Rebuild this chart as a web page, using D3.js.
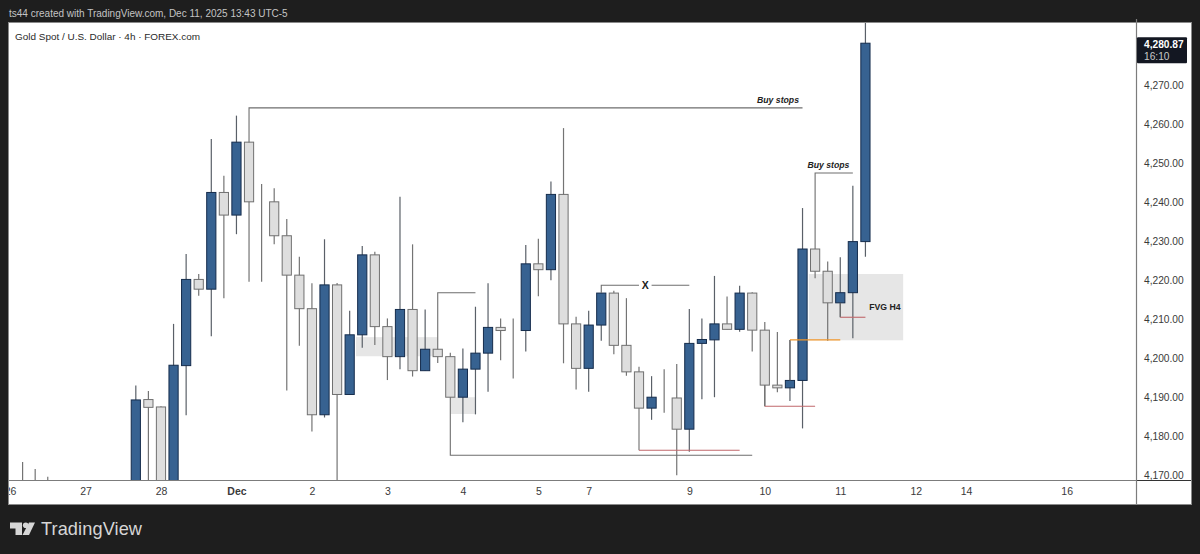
<!DOCTYPE html>
<html>
<head>
<meta charset="utf-8">
<script src="https://cdn.jsdelivr.net/npm/d3@7"></script>
<style>
  html, body { margin: 0; padding: 0; background: #1e1e1e; }
  svg { display: block; }
  text { font-family: "Liberation Sans", sans-serif; }
</style>
</head>
<body>
<svg id="chart" width="1200" height="554"></svg>
<script>
// bars are numbered from the "27" label, first one is bar -5
const firstBar = -5;
const opens = [4165, 4165, 4165, null, null, null, null, null, null,
  4160, 4189.5, 4187.6, 4160, 4198.2, 4220.3, 4217.8, 4242.6, 4236.8, 4255.5, 4240.2, 4240.2, 4231.5, 4221.4, 4212.8,
  4185.6, 4218.9, 4190.8, 4206.1, 4226.6, 4208.2, 4200.5, 4212.6, 4196.9, 4202.4, 4200.5, 4190.1, 4197.3, 4201.4,
  4208, 4207.2, 4207.2, 4224.3, 4222.8, 4242.1, 4208.9, 4197.5, 4208.6, 4216.8, 4203.4, 4196.6, 4187.3, 4190.1, 4189.9,
  4181.9, 4203.9, 4204.8, 4208.9, 4207.5, 4216.8, 4207.3, 4193.2, 4192.5, 4194.4, 4228.1, 4222.4, 4214.3, 4216.9, 4230];
const closes = [4160, 4160, 4160, null, null, null, null, null, null,
  4189.4, 4187.5, 4160, 4198.3, 4220.3, 4217.8, 4242.6, 4236.8, 4255.5, 4240.2, 4240.2, 4231.5, 4221.4, 4212.8, 4185.6,
  4218.9, 4190.8, 4206.1, 4226.6, 4208.2, 4200.5, 4212.6, 4196.9, 4202.4, 4200.5, 4190.1, 4197.3, 4201.4, 4208,
  4207.2, 4207.2, 4224.3, 4222.8, 4242.1, 4208.9, 4197.5, 4208.6, 4216.8, 4203.4, 4196.6, 4187.3, 4190.1, 4190.1, 4181.9,
  4203.9, 4204.9, 4208.9, 4207.5, 4216.8, 4207.3, 4193.2, 4192.5, 4194.4, 4228.1, 4222.4, 4214.3, 4216.9, 4230, 4280.87];
const highs = [4173.5, 4171.7, 4169.7, null, null, null, null, null, null,
  4193.1, 4191.7, 4187.8, 4208.9, 4226.8, 4221.7, 4256.3, 4246.9, 4262.3, 4255.5, 4244.8, 4243.7, 4235.8, 4226.1, 4219.3,
  4230.6, 4219.4, 4212.3, 4228.9, 4227.4, 4210.3, 4241.5, 4229.3, 4212.6, 4202.4, 4201.5, 4202.6, 4213.3, 4219.3,
  4210.3, 4210.3, 4229.1, 4230.7, 4245.4, 4259.1, 4210.7, 4212.3, 4216.8, 4217.4, 4215.5, 4197.9, 4195.5, 4197.3, 4198.6,
  4212.7, 4210.3, 4221.2, 4215.9, 4218.7, 4217, 4209.4, 4206.8, 4204.8, 4238.6, 4228.1, 4224.9, 4226, 4244.3, 4295];
const lows = [4150, 4150, 4150, null, null, null, null, null, null,
  4150, 4150, 4150, 4150, 4185.5, 4216.1, 4205.7, 4215.5, 4231.9, 4219.7, 4219.7, 4229.3, 4191.8, 4203.3, 4181.3,
  4184.9, 4160, 4190.8, 4202.8, 4203.5, 4194.5, 4197.3, 4195.4, 4196.9, 4198.9, 4190.1, 4183.7, 4185.7, 4191.5,
  4199.6, 4194.9, 4201.8, 4216, 4220.1, 4198.8, 4192.1, 4191.5, 4204.6, 4201.1, 4195.6, 4187.3, 4184.3, 4186.1, 4170.1,
  4176.1, 4189.6, 4190.1, 4207.5, 4206.9, 4201.8, 4187.8, 4191.4, 4189.1, 4182.1, 4220.6, 4204.6, 4210.6, 4205.2, 4226.1];

const priceTicks = [4170, 4180, 4190, 4200, 4210, 4220, 4230, 4240, 4250, 4260, 4270];
const dateBars = [-6, 0, 6, 12, 18, 24, 30, 36, 40, 48, 54, 60, 66, 70, 78];
const dateLabels = ["26", "27", "28", "Dec", "2", "3", "4", "5", "7", "9", "10", "11", "12", "14", "16"];

// drawings: each is a list of [bar, price]
const greyLines = [
  [[13, 4255.5], [13, 4264.3], [57, 4264.3]],
  [[58, 4228.1], [58, 4247.6], [61, 4247.6]],
  [[28, 4202.4], [28, 4216.9], [31, 4216.9]],
  [[41, 4216.8], [41, 4218.8], [44, 4218.8]],
  [[45, 4218.8], [48, 4218.8]],
  [[29, 4190.1], [29, 4175.2], [53, 4175.2]],
  [[44, 4187.3], [44, 4176.5]],
  [[54, 4193.2], [54, 4187.8]],
  [[60, 4214.3], [60, 4210.6]],
  [[56, 4194.4], [56, 4204.8]]
];
const redLines = [
  [[44, 4176.5], [52, 4176.5]],
  [[54, 4187.8], [58, 4187.8]],
  [[60, 4210.6], [62, 4210.6]]
];
const orangeLines = [[[56, 4204.8], [60, 4204.8]]];
const zoneBars = [[21.5, 28], [29, 31], [57.5, 65]];
const zonePrices = [[4205.5, 4200.6], [4190.1, 4185.8], [4221.7, 4204.7]];
const noteTexts = ["Buy stops", "Buy stops", "X", "FVG H4"];
const noteBars = [55.05, 59.06, 44.5, 63.55];
const notePrices = [4266.3, 4249.6, 4218.9, 4213.3];
const noteStyles = ["italic", "italic", "normal", "normal"];

const svg = d3.select("#chart");
const pane = { left: 9, right: 1137, top: 23, bottom: 481, outerRight: 1191, outerBottom: 504 };

const x = d3.scaleLinear().domain([0, 78]).range([85.5, 1066.7]);
const y = d3.scaleLinear().domain([4170, 4270]).range([475.6, 85.6]);

/* Frame */
svg.append("rect")
  .attr("x", pane.left - 0.5).attr("y", pane.top - 0.5)
  .attr("width", pane.outerRight - pane.left + 1).attr("height", pane.outerBottom - pane.top + 1)
  .attr("fill", "#ffffff").attr("stroke", "#8a8a8a");

svg.append("clipPath").attr("id", "plot").append("rect")
  .attr("x", pane.left).attr("y", pane.top)
  .attr("width", pane.right - pane.left).attr("height", pane.bottom - pane.top);
svg.append("clipPath").attr("id", "time").append("rect")
  .attr("x", pane.left).attr("y", pane.bottom)
  .attr("width", pane.right - pane.left).attr("height", pane.outerBottom - pane.bottom);

const plot = svg.append("g").attr("clip-path", "url(#plot)");

/* Zones */
plot.selectAll("rect.zone")
  .data(zoneBars)
  .enter()
  .append("rect")
  .attr("class", "zone")
  .attr("x", d => x(d[0]))
  .attr("width", d => x(d[1]) - x(d[0]))
  .attr("y", (d, i) => y(zonePrices[i][0]))
  .attr("height", (d, i) => y(zonePrices[i][1]) - y(zonePrices[i][0]))
  .attr("fill", "#e6e6e6");

/* Candles */
const candles = opens.map((o, i) => ({
  bar: firstBar + i, open: o, close: closes[i], high: highs[i], low: lows[i]
})).filter(d => d.open !== null);
const isUp = d => d.close > d.open;

plot.selectAll("line.wick")
  .data(candles)
  .enter()
  .append("line")
  .attr("class", "wick")
  .attr("x1", d => x(d.bar)).attr("x2", d => x(d.bar))
  .attr("y1", d => y(d.high)).attr("y2", d => y(d.low))
  .attr("stroke", d => isUp(d) ? "#5a6068" : "#747474")
  .attr("stroke-width", 1.2);

plot.selectAll("rect.body")
  .data(candles)
  .enter()
  .append("rect")
  .attr("class", "body")
  .attr("x", d => x(d.bar) - 4.6)
  .attr("width", 9.2)
  .attr("y", d => y(Math.max(d.open, d.close)))
  .attr("height", d => Math.abs(y(d.open) - y(d.close)))
  .attr("fill", d => isUp(d) ? "#376291" : "#dedede")
  .attr("stroke", d => isUp(d) ? "#152c4c" : "#707070")
  .attr("stroke-width", 1);

/* Drawings */
const drawing = d3.line().x(d => x(d[0])).y(d => y(d[1]));

function addLines(list, colour, width) {
  plot.append("g")
    .selectAll("path")
    .data(list)
    .enter()
    .append("path")
    .attr("d", drawing)
    .attr("fill", "none")
    .attr("stroke", colour)
    .attr("stroke-width", width);
}
addLines(greyLines, "#6e6e6e", 1.1);
addLines(redLines, "#c0676b", 1.1);
addLines(orangeLines, "#f0962a", 1.4);

plot.selectAll("text.note")
  .data(noteTexts)
  .enter()
  .append("text")
  .attr("class", "note")
  .attr("x", (d, i) => x(noteBars[i]))
  .attr("y", (d, i) => y(notePrices[i]))
  .attr("dy", "0.35em")
  .attr("text-anchor", "middle")
  .attr("font-size", (d, i) => i == 2 ? 10.5 : 8.7)
  .attr("font-style", (d, i) => noteStyles[i])
  .attr("font-weight", 700)
  .attr("fill", "#222")
  .text(d => d);

/* Axes */
const priceAxis = d3.axisRight(y)
  .tickValues(priceTicks)
  .tickSize(0)
  .tickPadding(7)
  .tickFormat(d3.format(",.2f"));

const timeAxis = d3.axisBottom(x)
  .tickValues(dateBars)
  .tickSize(0)
  .tickPadding(7)
  .tickFormat(d => dateLabels[dateBars.indexOf(d)]);

svg.append("g")
  .attr("transform", "translate(" + pane.right + ",0)")
  .call(priceAxis)
  .call(g => g.select(".domain").remove())
  .selectAll("text")
  .attr("font-family", '"Liberation Sans", sans-serif')
  .attr("font-size", 10.2)
  .attr("fill", "#3a3a3a");

svg.append("g")
  .attr("clip-path", "url(#time)")
  .append("g")
  .attr("transform", "translate(0," + pane.bottom + ")")
  .call(timeAxis)
  .call(g => g.select(".domain").remove())
  .selectAll("text")
  .attr("font-family", '"Liberation Sans", sans-serif')
  .attr("font-size", 10.5)
  .attr("font-weight", d => d == 12 ? 700 : 400)
  .attr("fill", "#3a3a3a");

svg.append("line")
  .attr("x1", pane.left).attr("x2", pane.right)
  .attr("y1", pane.bottom - 0.5).attr("y2", pane.bottom - 0.5)
  .attr("stroke", "#7c7c7c").attr("stroke-width", 1.2);
svg.append("line")
  .attr("x1", pane.right).attr("x2", pane.outerRight)
  .attr("y1", pane.bottom - 0.5).attr("y2", pane.bottom - 0.5)
  .attr("stroke", "#333").attr("stroke-width", 1.2);
svg.append("line")
  .attr("x1", pane.right - 0.5).attr("x2", pane.right - 0.5)
  .attr("y1", pane.top - 4).attr("y2", pane.outerBottom)
  .attr("stroke", "#7c7c7c").attr("stroke-width", 1.2);

/* Last price label */
svg.append("rect")
  .attr("x", pane.right).attr("y", y(4280.87) - 6)
  .attr("width", 50).attr("height", 26)
  .attr("rx", 1)
  .attr("fill", "#131722");
svg.append("text")
  .attr("x", pane.right + 7).attr("y", y(4280.87) + 4.5)
  .attr("font-size", 10.2).attr("font-weight", 700).attr("fill", "#ffffff")
  .text(d3.format(",.2f")(closes[closes.length - 1]));
svg.append("text")
  .attr("x", pane.right + 7).attr("y", y(4280.87) + 16.5)
  .attr("font-size", 10.2).attr("fill", "#c8c8c8")
  .text("16:10");

/* Titles */
svg.append("text")
  .attr("x", 15).attr("y", 40)
  .attr("font-size", 9.95).attr("fill", "#2a2a2a")
  .text("Gold Spot / U.S. Dollar · 4h · FOREX.com");
svg.append("text")
  .attr("x", 9).attr("y", 17)
  .attr("font-size", 10).attr("fill", "#c4c4c4")
  .text("ts44 created with TradingView.com, Dec 11, 2025 13:43 UTC-5");

/* Logo */
const logo = svg.append("g").attr("fill", "#d6d6d6");
logo.append("path").attr("d", "M10 522.5H22V535H15.5V528.5H10Z");
logo.append("circle").attr("cx", 25.7).attr("cy", 525.3).attr("r", 2.8);
logo.append("path").attr("d", "M29 522.5H35L29 535H22.5Z");
logo.append("text")
  .attr("x", 41).attr("y", 535)
  .attr("font-family", "Lato, sans-serif")
  .attr("font-size", 18.2).attr("font-weight", 400)
  .attr("textLength", 101)
  .text("TradingView");
</script>
</body>
</html>
